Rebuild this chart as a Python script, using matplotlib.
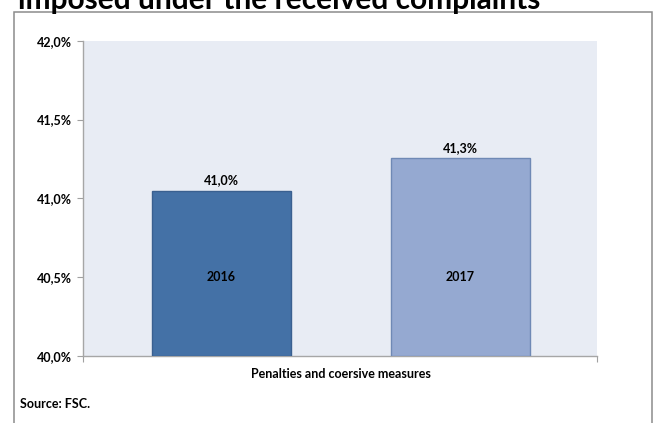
import matplotlib
matplotlib.use("Agg")
import matplotlib.pyplot as plt
from matplotlib.patches import Rectangle
from matplotlib.ticker import FixedLocator

# Data
years = ["2016", "2017"]
shares = [41.046, 41.253]          # share, %
category = "Penalties and coersive measures"
y_ticks = [40.0, 40.5, 41.0, 41.5, 42.0]

title = "imposed under the received complaints"
source = "Source: FSC."

W, H = 655, 423
fig = plt.figure(figsize=(W / 100, H / 100), dpi=100)
fig.patch.set_facecolor("white")

FONT = "Lato"
FS = 9

def fx(px):
    return px / W

def fy(py):
    return 1 - py / H

# outer chart frame
fig.add_artist(Rectangle((fx(14), fy(440)), fx(652) - fx(14), fy(12) - fy(440),
                         transform=fig.transFigure, fill=False,
                         edgecolor="#8C8C8C", linewidth=1.1, clip_on=False))

# title (partially above the canvas)
fig.text(fx(18), fy(9), title, fontsize=21.5, fontweight="bold",
         family=FONT, color="black", va="baseline", ha="left")

ax = fig.add_axes([fx(83), fy(356), fx(597) - fx(83), fy(40.7) - fy(356)])
ax.set_facecolor("#E8ECF4")

positions = [0.2695, 0.7344]
width = 0.270
fills = ["#4471A6", "#95A9D1"]
edges = ["#3A6090", "#6F89B5"]

bars = ax.bar(positions, [v - y_ticks[0] for v in shares], width=width,
              bottom=y_ticks[0], color=fills, edgecolor=edges, linewidth=1.0,
              zorder=3)

for b, v, yr in zip(bars, shares, years):
    cx = b.get_x() + b.get_width() / 2
    ax.text(cx, v + 0.03, f"{v:.1f}%".replace(".", ","), ha="center", va="bottom",
            fontsize=FS, fontweight="bold", family=FONT, color="black")
    ax.text(cx, y_ticks[0] + 0.5, yr, ha="center", va="center",
            fontsize=FS, fontweight="bold", family=FONT, color="black")

ax.set_xlim(0, 1)
ax.set_ylim(y_ticks[0], y_ticks[-1])
ax.yaxis.set_major_locator(FixedLocator(y_ticks))
ax.set_yticklabels([f"{t:.1f}%".replace(".", ",") for t in y_ticks],
                   fontsize=FS, fontweight="bold", family=FONT)
ax.xaxis.set_major_locator(FixedLocator([0, 1]))
ax.set_xticklabels(["", ""])
ax.tick_params(axis="y", length=4, width=0.8, color="#A0A0A0", pad=4)
ax.tick_params(axis="x", length=4, width=0.8, color="#A0A0A0")

for s in ["top", "right"]:
    ax.spines[s].set_visible(False)
for s in ["left", "bottom"]:
    ax.spines[s].set_color("#A6A6A6")
    ax.spines[s].set_linewidth(1.0)

fig.text(fx(341), fy(374), category, ha="center", va="center",
         fontsize=FS, fontweight="bold", family=FONT)
fig.text(fx(20), fy(404), source, ha="left", va="center",
         fontsize=FS, fontweight="bold", family=FONT)

fig.savefig("out.png", dpi=100)
